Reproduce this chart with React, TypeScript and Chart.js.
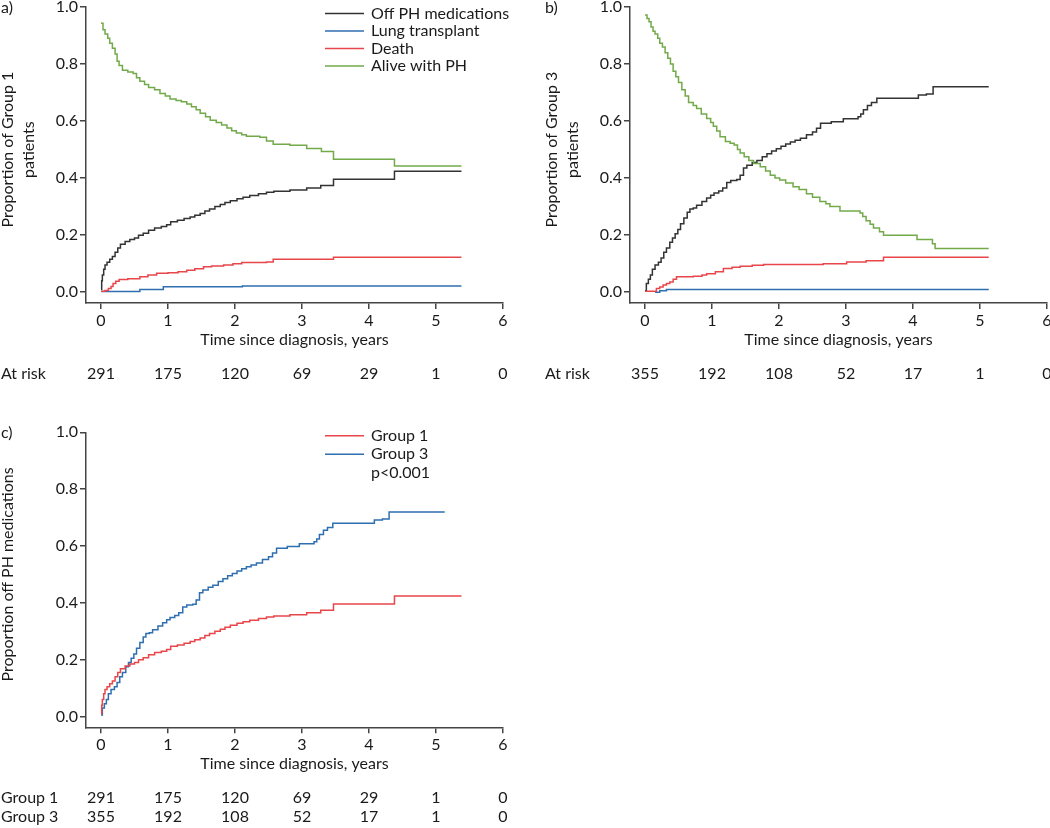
import React, { useEffect, useRef } from "react";
import { Chart, registerables } from "chart.js";

Chart.register(...registerables);

// ---------- data ----------
const xTickValues = [0, 1, 2, 3, 4, 5, 6];
const yTickValues = [0, 0.2, 0.4, 0.6, 0.8, 1.0];
const atRiskTimes = [0, 1, 2, 3, 4, 5, 6];
const group1AtRisk = [291, 175, 120, 69, 29, 1, 0];
const group3AtRisk = [355, 192, 108, 52, 17, 1, 0];

// Group 1: off PH medications
const g1OffTime = [0, 0.01, 0.02, 0.04, 0.06, 0.09, 0.13, 0.17, 0.21, 0.25, 0.29, 0.36, 0.43, 0.5, 0.56, 0.63, 0.71, 0.8, 0.9, 0.98, 1.04, 1.14, 1.24, 1.33, 1.4, 1.48, 1.55, 1.62, 1.7, 1.78, 1.85, 1.93, 2.03, 2.12, 2.22, 2.35, 2.47, 2.58, 2.82, 3.07, 3.28, 3.47, 4.38, 5.38];
const g1OffValue = [0.01, 0.04, 0.06, 0.08, 0.095, 0.105, 0.115, 0.125, 0.14, 0.155, 0.168, 0.178, 0.185, 0.19, 0.2, 0.207, 0.217, 0.225, 0.23, 0.236, 0.247, 0.252, 0.258, 0.264, 0.27, 0.276, 0.285, 0.292, 0.3, 0.307, 0.314, 0.321, 0.328, 0.333, 0.339, 0.345, 0.35, 0.354, 0.358, 0.365, 0.374, 0.396, 0.424, 0.424];
// Group 1: alive with PH
const g1AliveTime = [0, 0.03, 0.06, 0.1, 0.13, 0.17, 0.21, 0.24, 0.27, 0.32, 0.4, 0.48, 0.53, 0.58, 0.65, 0.71, 0.8, 0.88, 0.96, 1.03, 1.12, 1.2, 1.28, 1.35, 1.42, 1.48, 1.56, 1.63, 1.72, 1.8, 1.88, 1.95, 2.02, 2.1, 2.17, 2.37, 2.47, 2.57, 2.82, 3.07, 3.29, 3.47, 4.38, 5.38];
const g1AliveValue = [0.943, 0.92, 0.905, 0.89, 0.873, 0.855, 0.835, 0.81, 0.795, 0.778, 0.772, 0.767, 0.752, 0.74, 0.728, 0.718, 0.71, 0.697, 0.688, 0.677, 0.672, 0.668, 0.66, 0.65, 0.64, 0.627, 0.615, 0.603, 0.595, 0.586, 0.576, 0.566, 0.558, 0.552, 0.547, 0.543, 0.53, 0.519, 0.515, 0.504, 0.493, 0.466, 0.442, 0.442];
// Group 1: death
const g1DeathTime = [0, 0.06, 0.11, 0.15, 0.18, 0.22, 0.27, 0.4, 0.58, 0.7, 0.83, 1.0, 1.15, 1.28, 1.4, 1.53, 1.65, 1.83, 1.97, 2.1, 2.47, 2.57, 3.47, 5.38];
const g1DeathValue = [0.003, 0.006, 0.013, 0.02, 0.03, 0.038, 0.044, 0.047, 0.054, 0.06, 0.066, 0.068, 0.072, 0.077, 0.082, 0.089, 0.092, 0.095, 0.1, 0.104, 0.106, 0.115, 0.122, 0.122];
// Group 1: lung transplant
const g1TxTime = [0, 0.58, 0.93, 2.11, 5.38];
const g1TxValue = [0.002, 0.009, 0.019, 0.022, 0.022];

// Group 3: off PH medications
const g3OffTime = [0, 0.02, 0.05, 0.08, 0.11, 0.15, 0.2, 0.24, 0.28, 0.32, 0.37, 0.41, 0.45, 0.49, 0.53, 0.58, 0.63, 0.67, 0.72, 0.77, 0.85, 0.92, 0.98, 1.03, 1.1, 1.16, 1.22, 1.28, 1.37, 1.42, 1.47, 1.52, 1.6, 1.67, 1.75, 1.82, 1.89, 1.96, 2.03, 2.1, 2.17, 2.24, 2.32, 2.41, 2.5, 2.56, 2.62, 2.78, 2.96, 3.18, 3.22, 3.26, 3.32, 3.38, 3.46, 4.08, 4.2, 4.3, 5.13];
const g3OffValue = [0.005, 0.03, 0.045, 0.06, 0.08, 0.095, 0.105, 0.12, 0.14, 0.155, 0.175, 0.19, 0.205, 0.22, 0.24, 0.26, 0.28, 0.292, 0.295, 0.305, 0.318, 0.33, 0.34, 0.348, 0.355, 0.365, 0.385, 0.392, 0.395, 0.41, 0.435, 0.445, 0.455, 0.462, 0.475, 0.485, 0.495, 0.503, 0.512, 0.52, 0.527, 0.533, 0.54, 0.552, 0.562, 0.575, 0.592, 0.598, 0.608, 0.615, 0.625, 0.64, 0.655, 0.665, 0.68, 0.691, 0.695, 0.72, 0.72];
// Group 3: alive with PH
const g3AliveTime = [0, 0.03, 0.06, 0.09, 0.12, 0.15, 0.19, 0.22, 0.26, 0.3, 0.34, 0.38, 0.42, 0.46, 0.5, 0.55, 0.6, 0.65, 0.72, 0.77, 0.84, 0.92, 0.98, 1.02, 1.07, 1.12, 1.2, 1.27, 1.33, 1.38, 1.42, 1.48, 1.55, 1.62, 1.72, 1.8, 1.87, 1.94, 2.01, 2.1, 2.21, 2.3, 2.41, 2.5, 2.61, 2.7, 2.76, 2.91, 3.21, 3.25, 3.3, 3.36, 3.41, 3.5, 3.56, 4.06, 4.29, 4.33, 5.13];
const g3AliveValue = [0.972, 0.96, 0.948, 0.93, 0.915, 0.905, 0.89, 0.873, 0.86, 0.84, 0.82, 0.8, 0.775, 0.755, 0.735, 0.71, 0.688, 0.665, 0.655, 0.644, 0.625, 0.609, 0.595, 0.582, 0.565, 0.545, 0.528, 0.522, 0.516, 0.5, 0.488, 0.475, 0.462, 0.451, 0.44, 0.425, 0.41, 0.4, 0.393, 0.383, 0.37, 0.36, 0.345, 0.333, 0.318, 0.31, 0.3, 0.285, 0.278, 0.265, 0.25, 0.238, 0.225, 0.212, 0.2, 0.185, 0.17, 0.153, 0.153];
// Group 3: death
const g3DeathTime = [0, 0.12, 0.17, 0.22, 0.27, 0.32, 0.37, 0.42, 0.47, 0.72, 0.85, 0.92, 1.05, 1.17, 1.3, 1.42, 1.6, 1.77, 2.66, 3.01, 3.3, 3.56, 5.13];
const g3DeathValue = [0.003, 0.003, 0.013, 0.018, 0.025, 0.03, 0.036, 0.045, 0.054, 0.056, 0.06, 0.065, 0.072, 0.083, 0.087, 0.091, 0.094, 0.097, 0.1, 0.106, 0.11, 0.122, 0.122];
// Group 3: lung transplant
const g3TxTime = [0.15, 0.22, 0.32, 5.13];
const g3TxValue = [0, 0.005, 0.009, 0.009];

// ---------- style ----------
const FONT = "Lato, 'Noto Sans', sans-serif";
const TEXT = "#1a1a1a";
const AXIS = "#444444";
const C_OFF = "#333333";
const C_TX = "#2f6fb0";
const C_DEATH = "#e8464b";
const C_ALIVE = "#72aa4a";
const X_MIN = -0.224;
const X_MAX = 6;
const Y_MIN = -0.038;
const Y_MAX = 1;

function series(label: string, t: number[], v: number[], color: string) {
  return {
    label,
    data: t.map((x, i) => ({ x, y: v[i] })),
    borderColor: color,
    backgroundColor: color,
    borderWidth: 1.5,
    pointRadius: 0,
    stepped: "before" as const,
    fill: false,
  };
}

type Spec = {
  label: string;
  yTitle: string[];
  legend?: { text: string; color?: string }[];
  legendTop?: number;
  legendGap?: number;
  atRisk: { label: string; values: number[] }[];
};

function overlay(spec: Spec) {
  return {
    id: "overlay",
    afterDraw(chart: any) {
      const { ctx, chartArea: a, scales } = chart;
      const xs = scales.x;
      const ys = scales.y;
      ctx.save();
      ctx.font = `16px ${FONT}`;
      ctx.fillStyle = TEXT;
      ctx.textBaseline = "middle";
      ctx.textAlign = "left";
      ctx.fillText(spec.label, a.left - 85, a.top + 0.5);

      const cy = (ys.getPixelForValue(0) + ys.getPixelForValue(1)) / 2;
      spec.yTitle.forEach((line, i) => {
        ctx.save();
        ctx.translate(a.left - 78.5 + i * 21.5, cy);
        ctx.rotate(-Math.PI / 2);
        ctx.textAlign = "center";
        ctx.fillText(line, 0, 0);
        ctx.restore();
      });

      if (spec.legend) {
        const gap = spec.legendGap ?? 17.5;
        const top = spec.legendTop ?? 6;
        spec.legend.forEach((item, i) => {
          const y = a.top + top + i * gap;
          if (item.color) {
            ctx.strokeStyle = item.color;
            ctx.lineWidth = 1.5;
            ctx.beginPath();
            ctx.moveTo(a.left + 239, y);
            ctx.lineTo(a.left + 278, y);
            ctx.stroke();
          }
          ctx.textAlign = "left";
          ctx.fillText(item.text, a.left + 285, y);
        });
      }

      spec.atRisk.forEach((row, r) => {
        const y = a.bottom + 71 + r * 19;
        ctx.textAlign = "left";
        ctx.fillText(row.label, a.left - 85, y);
        ctx.textAlign = "center";
        row.values.forEach((n, i) => {
          ctx.fillText(String(n), xs.getPixelForValue(atRiskTimes[i]), y);
        });
      });
      ctx.restore();
    },
  };
}

function makeConfig(datasets: any[], spec: Spec, padding: any, yWidth: number) {
  const tickFont = { family: FONT, size: 16, lineHeight: 1.2 };
  const grid = {
    drawOnChartArea: false,
    drawTicks: true,
    tickLength: 6,
    color: AXIS,
    lineWidth: 1.5,
  };
  const border = { display: true, color: AXIS, width: 1.5 };
  return {
    type: "line" as const,
    data: { datasets },
    options: {
      responsive: false,
      animation: false as const,
      devicePixelRatio: 1,
      layout: { padding },
      plugins: { legend: { display: false }, tooltip: { enabled: false }, title: { display: false } },
      scales: {
        x: {
          type: "linear" as const,
          min: X_MIN,
          max: X_MAX,
          afterBuildTicks: (s: any) => {
            s.ticks = xTickValues.map((value) => ({ value }));
          },
          afterFit: (s: any) => {
            s.height = 46.6;
          },
          grid,
          border,
          ticks: {
            font: tickFont,
            color: TEXT,
            padding: 2,
            autoSkip: false,
            maxRotation: 0,
            callback: (v: any) => String(v),
          },
          title: {
            display: true,
            text: "Time since diagnosis, years",
            font: { family: FONT, size: 16, lineHeight: 1.2 },
            color: TEXT,
            padding: 0,
          },
        },
        y: {
          type: "linear" as const,
          min: Y_MIN,
          max: Y_MAX,
          afterBuildTicks: (s: any) => {
            s.ticks = yTickValues.map((value) => ({ value }));
          },
          afterFit: (s: any) => {
            s.width = yWidth;
          },
          grid,
          border,
          ticks: {
            font: tickFont,
            color: TEXT,
            padding: 2,
            callback: (v: any) => Number(v).toFixed(1),
          },
          title: { display: false },
        },
      },
    },
    plugins: [overlay(spec)],
  };
}

function Panel(props: { left: number; top: number; width: number; height: number; build: () => any }) {
  const ref = useRef<HTMLCanvasElement | null>(null);
  useEffect(() => {
    const chart = new Chart(ref.current as HTMLCanvasElement, props.build());
    return () => chart.destroy();
  }, []);
  return (
    <canvas
      ref={ref}
      width={props.width}
      height={props.height}
      style={{ position: "absolute", left: props.left, top: props.top, width: props.width, height: props.height }}
    />
  );
}

const buildA = () =>
  makeConfig(
    [
      series("Alive with PH", g1AliveTime, g1AliveValue, C_ALIVE),
      series("Death", g1DeathTime, g1DeathValue, C_DEATH),
      series("Lung transplant", g1TxTime, g1TxValue, C_TX),
      series("Off PH medications", g1OffTime, g1OffValue, C_OFF),
    ],
    {
      label: "a)",
      yTitle: ["Proportion of Group 1", "patients"],
      legend: [
        { text: "Off PH medications", color: C_OFF },
        { text: "Lung transplant", color: C_TX },
        { text: "Death", color: C_DEATH },
        { text: "Alive with PH", color: C_ALIVE },
      ],
      legendTop: 6.5,
      legendGap: 17.5,
      atRisk: [{ label: "At risk", values: group1AtRisk }],
    },
    { top: 20, left: 0, right: 22, bottom: 45.4 },
    86
  );

const buildB = () =>
  makeConfig(
    [
      series("Alive with PH", g3AliveTime, g3AliveValue, C_ALIVE),
      series("Death", g3DeathTime, g3DeathValue, C_DEATH),
      series("Lung transplant", g3TxTime, g3TxValue, C_TX),
      series("Off PH medications", g3OffTime, g3OffValue, C_OFF),
    ],
    {
      label: "b)",
      yTitle: ["Proportion of Group 3", "patients"],
      atRisk: [{ label: "At risk", values: group3AtRisk }],
    },
    { top: 20, left: 0, right: 18, bottom: 45.4 },
    105
  );

const buildC = () =>
  makeConfig(
    [
      series("Group 1", g1OffTime, g1OffValue, C_DEATH),
      series("Group 3", g3OffTime, g3OffValue, C_TX),
    ],
    {
      label: "c)",
      yTitle: ["Proportion off PH medications"],
      legend: [
        { text: "Group 1", color: C_DEATH },
        { text: "Group 3", color: C_TX },
        { text: "p<0.001" },
      ],
      legendTop: 3.5,
      legendGap: 18.5,
      atRisk: [
        { label: "Group 1", values: group1AtRisk },
        { label: "Group 3", values: group3AtRisk },
      ],
    },
    { top: 20.3, left: 0, right: 22, bottom: 54.1 },
    86
  );

export default function App() {
  return (
    <div style={{ position: "relative", width: 1050, height: 828, overflow: "hidden", background: "#fff" }}>
      <style>{"body{margin:0;background:#fff}"}</style>
      <Panel left={0} top={-13} width={525} height={408} build={buildA} />
      <Panel left={525} top={-13} width={540} height={408} build={buildB} />
      <Panel left={0} top={412} width={525} height={416} build={buildC} />
    </div>
  );
}
